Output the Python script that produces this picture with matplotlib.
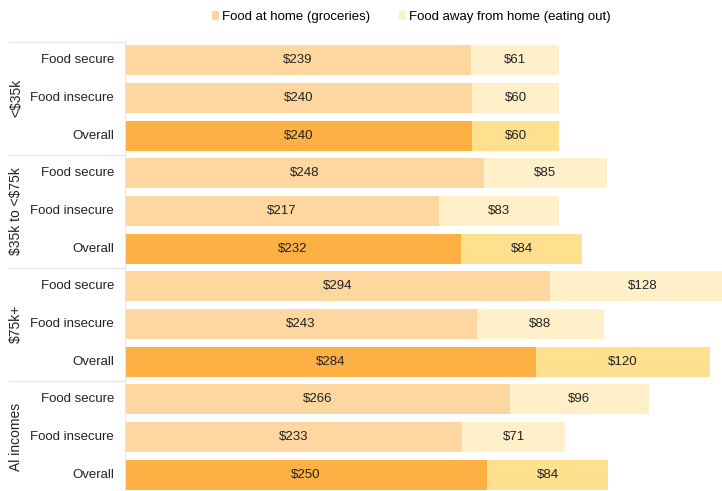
import matplotlib.pyplot as plt
import numpy as np
from matplotlib.lines import Line2D
from matplotlib.patches import Patch

plt.rcParams["font.family"] = ["Liberation Sans", "DejaVu Sans"]
plt.rcParams["text.parse_math"] = False

GROUPS = ["<$35k", "$35k to <$75k", "$75k+", "Al incomes"]
ROWS = ["Food secure", "Food insecure", "Overall"]

at_home = [239, 240, 240, 248, 217, 232, 294, 243, 284, 266, 233, 250]
away = [61, 60, 60, 85, 83, 84, 128, 88, 120, 96, 71, 84]
is_overall = [False, False, True] * 4

HOME_LIGHT = "#fed69f"
HOME_DARK = "#feb044"
AWAY_LIGHT = "#fff0c9"
AWAY_DARK = "#ffe08f"
LINE = "#e6e6e6"

fig = plt.figure(figsize=(7.22, 4.91), dpi=100)
ax = fig.add_axes([125 / 722, -2.5 / 491, 1 - 125 / 722, (491 - 41.5 + 2.5) / 491])

y = np.arange(len(at_home))
home_c = [HOME_DARK if o else HOME_LIGHT for o in is_overall]
away_c = [AWAY_DARK if o else AWAY_LIGHT for o in is_overall]
ax.barh(y, at_home, height=0.8, color=home_c)
ax.barh(y, away, left=at_home, height=0.8, color=away_c)

for i in range(len(at_home)):
    ax.text(at_home[i] / 2, i, f"${at_home[i]}", ha="center", va="center",
            fontsize=9.5, color="#222222")
    ax.text(at_home[i] + away[i] / 2, i, f"${away[i]}", ha="center", va="center",
            fontsize=9.5, color="#222222")

ax.set_xlim(0, 412.5)
ax.set_ylim(len(at_home) - 0.5, -0.5)
ax.set_xticks([])
ax.set_yticks([])
for s in ["top", "right", "bottom"]:
    ax.spines[s].set_visible(False)
ax.spines["left"].set_color(LINE)

# row labels
for i in range(len(at_home)):
    ax.annotate(ROWS[i % 3], xy=(0, i), xycoords=("axes fraction", "data"),
                xytext=(-8, 0), textcoords="offset points",
                ha="right", va="center", fontsize=9.5, color="#222222")

# group labels and separators
left_frac = -(125 - 9) / 597
for g, name in enumerate(GROUPS):
    ax.annotate(name, xy=(0, g * 3 + 1), xycoords=("axes fraction", "data"),
                xytext=(-(125 - 16) * 0.72, 0), textcoords="offset points",
                ha="center", va="center", rotation=90, fontsize=10,
                color="#222222")
    yb = g * 3 - 0.5
    ax.add_line(Line2D([left_frac, 0], [yb, yb], color=LINE, lw=1,
                       transform=ax.get_yaxis_transform(), clip_on=False))

handles = [Patch(color=HOME_LIGHT), Patch(color=AWAY_LIGHT)]
fig.legend(handles, ["Food at home (groceries)", "Food away from home (eating out)"],
           loc="center", bbox_to_anchor=(411 / 722, 1 - 17 / 491), ncol=2,
           frameon=False, fontsize=9.5, handlelength=0.45, handleheight=0.55,
           handletextpad=0.3, columnspacing=2.2)

fig.savefig("out.png", dpi=100)
